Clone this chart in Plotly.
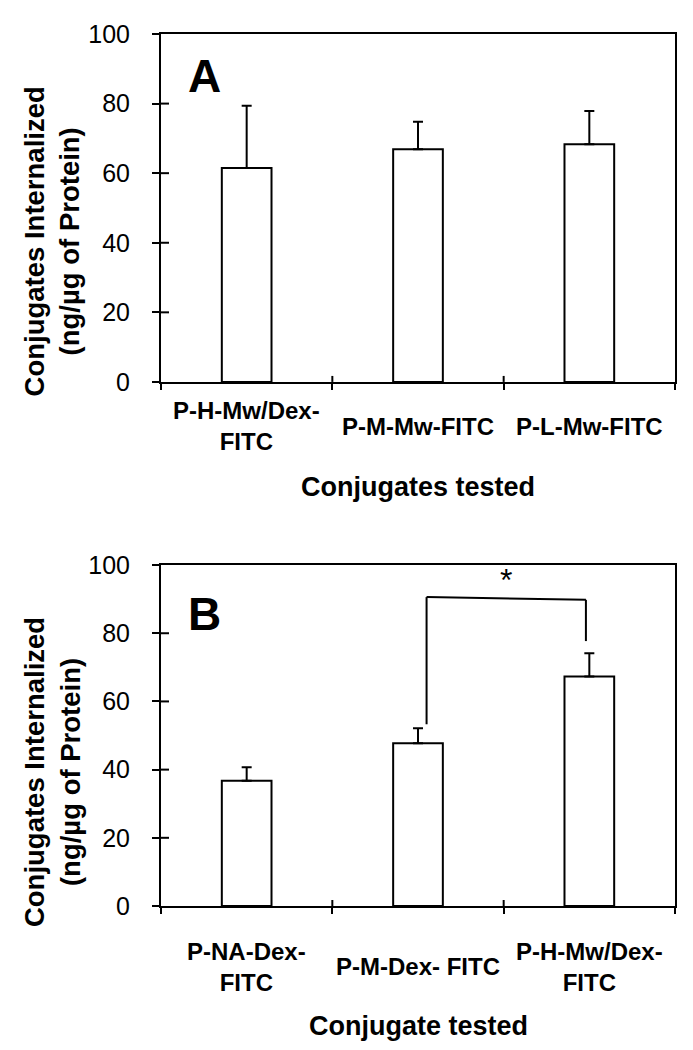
import plotly.graph_objects as go

# Panel A
cats_a = ["P-H-Mw/Dex-<br>FITC", "P-M-Mw-FITC", "P-L-Mw-FITC"]
vals_a = [61.5, 66.9, 68.3]
err_a = [17.9, 7.9, 9.6]

# Panel B
cats_b = ["P-NA-Dex-<br>FITC", "P-M-Dex- FITC", "P-H-Mw/Dex-<br>FITC"]
vals_b = [36.7, 47.7, 67.3]
err_b = [4.0, 4.4, 6.8]

# significance bracket in panel B (between bar 2 and bar 3)
sig_pair = (1, 2)
sig_top = 90.6
sig_bases = (53.3, 77.7)
sig_label = "*"

y_ticks = [0, 20, 40, 60, 80, 100]

FONT = "Liberation Sans, Arial, sans-serif"
BLACK = "black"

fig = go.Figure()

for cats, vals, err, xa, ya in [(cats_a, vals_a, err_a, "x", "y"),
                                (cats_b, vals_b, err_b, "x2", "y2")]:
    fig.add_trace(go.Bar(
        x=cats, y=vals, xaxis=xa, yaxis=ya,
        width=0.29,
        marker=dict(color="white", line=dict(color=BLACK, width=2)),
        error_y=dict(type="data", array=err, arrayminus=[0] * len(err),
                     symmetric=False, color=BLACK, thickness=2, width=5),
        showlegend=False, hoverinfo="skip",
    ))

main_y = dict(range=[0, 100], tickvals=y_ticks, ticks="outside", ticklen=7,
              tickwidth=2, tickcolor=BLACK, showline=True, linecolor=BLACK,
              linewidth=2, mirror=True, showgrid=False, zeroline=False,
              tickfont=dict(family=FONT, size=25, color=BLACK),
              ticklabelstandoff=17)
main_x = dict(type="category", range=[-0.5, 2.5], tickson="boundaries",
              ticks="outside", ticklen=6, tickwidth=2, tickcolor=BLACK,
              showline=True, linecolor=BLACK, linewidth=2, mirror=True,
              showticklabels=False, showgrid=False)

fig.update_layout(
    width=693, height=1050,
    margin=dict(l=153, r=26, t=26, b=152),
    paper_bgcolor="white", plot_bgcolor="white",
    xaxis=dict(main_x, domain=[0, 1], anchor="y"),
    yaxis=dict(main_y, domain=[0.601, 1], anchor="x"),
    xaxis2=dict(main_x, domain=[0, 1], anchor="y2"),
    yaxis2=dict(main_y, domain=[0, 0.391], anchor="x2"),
)


def bold(t):
    return "<b>" + t.replace("<br>", "</b><br><b>") + "</b>"


ann = []
shapes = []
line = dict(color=BLACK, width=2)
bounds = [i - 0.5 for i in range(len(cats_a) + 1)]
ytitle = "Conjugates Internalized<br>(ng/µg of Protein)"
for xr, yr, cats, lab_y, xtitle, xt_y, yt_y, letter, let_y in [
        ("x", "y", cats_a, -0.128, "Conjugates tested", -0.303, 0.404, "A", 0.879),
        ("x2", "y2", cats_b, -0.178, "Conjugate tested", -0.352, 0.393, "B", 0.856)]:
    # inner half of the crossing tick marks
    for v in y_ticks[1:-1]:
        shapes.append(dict(type="line", xref=xr + " domain", yref=yr,
                           xsizemode="pixel", xanchor=0, x0=0, x1=8,
                           y0=v, y1=v, line=line))
    for b in bounds[1:-1]:
        shapes.append(dict(type="line", xref=xr, yref=yr + " domain",
                           ysizemode="pixel", yanchor=0, y0=0, y1=6,
                           x0=b, x1=b, line=line))
    for c in cats:
        ann.append(dict(x=c, y=lab_y, xref=xr, yref=yr + " domain", text=bold(c),
                        showarrow=False, xanchor="center", yanchor="middle",
                        font=dict(family=FONT, size=24, color=BLACK)))
    ann.append(dict(x=0.5, y=xt_y, xref=xr + " domain", yref=yr + " domain",
                    text=bold(xtitle), showarrow=False, yanchor="middle",
                    font=dict(family=FONT, size=27, color=BLACK)))
    ann.append(dict(x=-0.212, y=yt_y, xref=xr + " domain", yref=yr + " domain",
                    text=bold(ytitle), textangle=-90, showarrow=False,
                    xanchor="center", yanchor="middle",
                    font=dict(family=FONT, size=27.5, color=BLACK)))
    ann.append(dict(x=0.085, y=let_y, xref=xr + " domain", yref=yr + " domain",
                    text=bold(letter), showarrow=False,
                    xanchor="center", yanchor="middle",
                    font=dict(family=FONT, size=46, color=BLACK)))

# significance marker
x_l = sig_pair[0] + 0.05
x_r = sig_pair[1] - 0.02
shapes += [
    dict(type="line", xref="x2", yref="y2", x0=x_l, x1=x_l, y0=sig_bases[0], y1=sig_top, line=line),
    dict(type="line", xref="x2", yref="y2", x0=x_l, x1=x_r, y0=sig_top, y1=sig_top - 0.8, line=line),
    dict(type="line", xref="x2", yref="y2", x0=x_r, x1=x_r, y0=sig_top - 0.8, y1=sig_bases[1], line=line),
]
ann.append(dict(x=(x_l + x_r) / 2, y=sig_top + 5, xref="x2", yref="y2",
                text=sig_label, showarrow=False, yanchor="middle",
                font=dict(family=FONT, size=32, color=BLACK)))

fig.update_layout(annotations=ann, shapes=shapes)

fig.write_html("out.html")
